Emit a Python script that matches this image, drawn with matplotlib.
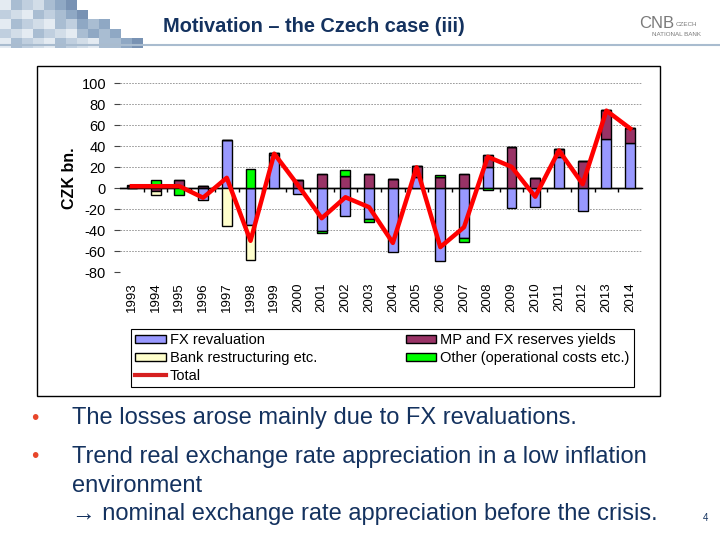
import numpy as np
import matplotlib
matplotlib.use("Agg")
import matplotlib.pyplot as plt
from matplotlib.patches import Rectangle, Patch
from matplotlib.lines import Line2D

plt.rcParams['font.family'] = ['Liberation Sans', 'DejaVu Sans']
plt.rcParams['axes.unicode_minus'] = False

# data (CZK bn.)
years = [str(y) for y in range(1993, 2015)]
fx_reval = [0, 0, 0, -11, 46, -35, 32, -5, -41, -26, -29.5,
            -61, 11, -69, -47.5, 20.5, -18.5, -18, 29.5, -22, 46.5, 43]
mp_yields = [2, -3, 8, 2, 0, 0, 2, 8, 14, 12, 13.5,
             9, 10, 11, 13.5, 11, 39, 10, 8, 26, 28.5, 14]
bank_restr = [0, -3, 0, 0, -36, -33, 0, 0, 0, 0, 0,
              0, 0, 0, 0, 0, 0, 0, 0, 0, 0, 0]
other_costs = [1, 8, -6, 0, 0, 18, 0, 0, -1.5, 5.5, -2.5,
               0, 0, 2, -4, -1.5, 0, 0, 0, 0, 0, 0]
total = [2, 2, 2, -9, 10, -50, 33, 3, -28.5, -8.5, -18,
         -52, 20, -56, -37, 30, 20.5, -8, 36, 4, 74, 57]

series = [
    ('FX revaluation', fx_reval, '#9999ff'),
    ('MP and FX reserves yields', mp_yields, '#993366'),
    ('Bank restructuring etc.', bank_restr, '#ffffcc'),
    ('Other (operational costs etc.)', other_costs, '#00ff00'),
]

navy = '#14325f'
W, H = 720, 540
fig = plt.figure(figsize=(7.2, 5.4), dpi=100)

# ---- slide header: pixel mosaic ----
shades = ['#e4ebf2', '#d2dde8', '#c0cfdf', '#a9bdd2', '#8fa8c4', '#7892b3']
sq = 11
for r in range(5):
    ncols = 7 + r + (r // 2)
    for c in range(ncols):
        edge = ncols - c
        if edge <= 1:
            col = shades[5 - (c + r) % 2]
        elif edge <= 3:
            col = shades[3 + (c + r) % 2]
        else:
            col = shades[(c * 3 + r * 2) % 4]
        fig.patches.append(Rectangle((c * sq / W, 1 - (r + 1) * 9.6 / H), sq / W, 9.6 / H,
                                     transform=fig.transFigure, facecolor=col,
                                     edgecolor='none'))
fig.add_artist(Line2D([0, 1], [1 - 45 / H, 1 - 45 / H], transform=fig.transFigure,
                      color='#a9bccf', lw=1.5))
fig.text(314 / W, 1 - 26 / H, 'Motivation \u2013 the Czech case (iii)', ha='center',
         va='center', fontsize=14.4, fontweight='bold', color=navy)
fig.text(657 / W, 1 - 23 / H, 'CNB', ha='center', va='center', fontsize=12,
         color='#7a7a7a')
fig.text(676 / W, 1 - 24 / H, 'CZECH', ha='left', va='center', fontsize=4.5, color='#7a7a7a')
fig.text(652 / W, 1 - 35 / H, 'NATIONAL BANK', ha='left', va='center', fontsize=4.5,
         color='#7a7a7a')

# ---- chart frame ----
fig.patches.append(Rectangle((37 / W, 1 - 396 / H), 623 / W, 330 / H,
                             transform=fig.transFigure, facecolor='none',
                             edgecolor='black', lw=1))

ax = fig.add_axes([120 / W, 1 - 272.3 / H, 522 / W, 189 / H])
ax.patch.set_alpha(0)
x = np.arange(len(years))
pos_base = np.zeros(len(years))
neg_base = np.zeros(len(years))
handles = {}
for name, vals, color in series:
    v = np.array(vals, dtype=float)
    bottom = np.where(v >= 0, pos_base, neg_base)
    ax.bar(x, v, 0.42, bottom=bottom, color=color, edgecolor='black',
           linewidth=1.0, zorder=3)
    pos_base += np.where(v > 0, v, 0)
    neg_base += np.where(v < 0, v, 0)
    handles[name] = Patch(facecolor=color, edgecolor='black', linewidth=1.0)

ax.plot(x, total, color='#ff0000', lw=3.2, zorder=5, solid_joinstyle='round')

ax.set_xlim(-0.5, len(years) - 0.5)
ax.set_ylim(-80, 100)
ax.set_yticks(np.arange(-80, 101, 20))
ax.yaxis.grid(True, color='#8c8c8c', lw=0.6, ls=(0, (2, 1.5)))
ax.set_axisbelow(True)
for s in ax.spines.values():
    s.set_visible(False)
ax.tick_params(axis='y', length=4, width=0.8, pad=6, labelsize=10.5, color='#444444')
ax.set_xticks(x)
ax.set_xticklabels(years, rotation=90, fontsize=9.5)
ax.tick_params(axis='x', length=0, pad=7)
ax.set_ylabel('CZK bn.', fontsize=11.5, fontweight='bold', labelpad=3)

# zero axis line with category tick marks
zero = ax.secondary_xaxis(80 / 180)
zero.set_xticks(x[:-1] + 0.5)
zero.tick_params(axis='x', direction='out', length=3, width=1, labelbottom=False,
                 labeltop=False, bottom=True, top=False)
zero.spines['bottom'].set_visible(True)
zero.spines['top'].set_visible(False)
zero.spines['bottom'].set_linewidth(1)
ax.axhline(0, color='black', lw=1, zorder=2)

leg_handles = [handles['FX revaluation'], handles['Bank restructuring etc.'],
               Line2D([], [], color='#d62020', lw=3),
               handles['MP and FX reserves yields'],
               handles['Other (operational costs etc.)']]
leg_labels = ['FX revaluation', 'Bank restructuring etc.', 'Total',
              'MP and FX reserves yields', 'Other (operational costs etc.)']
leg = fig.legend(leg_handles, leg_labels, ncol=2, loc='upper left',
                 bbox_to_anchor=(131 / W, 1 - 329 / H), fontsize=10.5,
                 frameon=True, fancybox=False, edgecolor='black', framealpha=1,
                 handlelength=2.1, handleheight=0.45, handletextpad=0.25,
                 columnspacing=6.1, labelspacing=0.25, borderpad=0.3,
                 borderaxespad=0)
leg.get_frame().set_linewidth(0.8)

# ---- bullets ----
body = dict(fontsize=17, color=navy, va='center', ha='left')
fig.text(31 / W, 1 - 418 / H, '\u2022', fontsize=15, color='#e8462a', va='center')
fig.text(72 / W, 1 - 418 / H, 'The losses arose mainly due to FX revaluations.', **body)
fig.text(31 / W, 1 - 457 / H, '\u2022', fontsize=15, color='#e8462a', va='center')
fig.text(72 / W, 1 - 457 / H, 'Trend real exchange rate appreciation in a low inflation', **body)
fig.text(72 / W, 1 - 486 / H, 'environment', **body)
fig.text(72 / W, 1 - 514 / H,
         '\u2192 nominal exchange rate appreciation before the crisis.', **body)
fig.text(703 / W, 1 - 518 / H, '4', fontsize=7, color=navy, va='center')

fig.savefig('out.png', dpi=100)
